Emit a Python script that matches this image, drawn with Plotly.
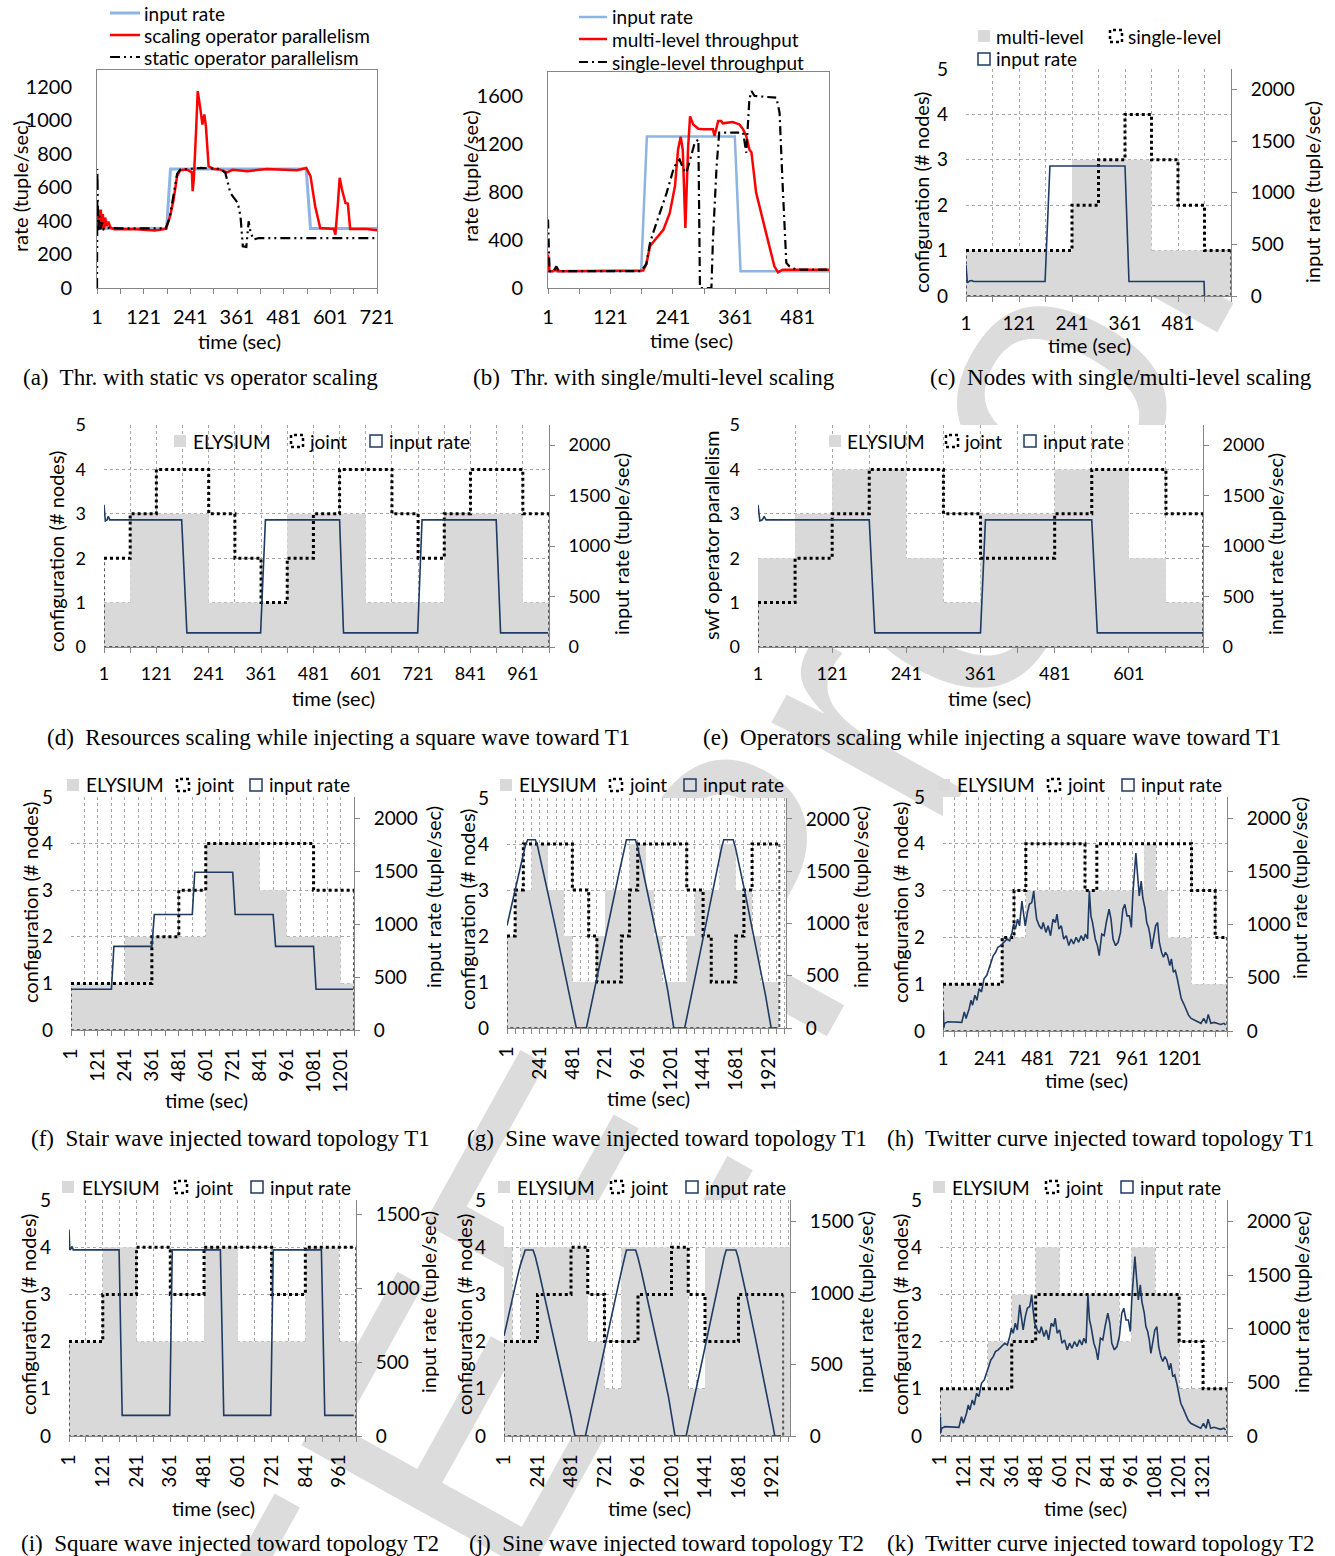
import plotly.graph_objects as go

W, H = 1335, 1556
SANS = "Lato"
SERIF = "Liberation Serif"
GRID = "#a6a6a6"
AXC = "#868686"
NAVY = "#1f3b63"
FILL = "#d9d9d9"
BLUE = "#8db4e2"
RED = "#ff0000"

# ======================= DATA =======================
# (a) throughput, static vs operator scaling  (time, tuple/sec)
a_input = [(1, 355), (180, 355), (190, 710), (539, 710), (550, 355), (721, 355)]
a_scaling = [(1, 360), (4, 450), (6, 350), (8, 460), (11, 460), (13, 360), (16, 440), (19, 350), (22, 420),
             (26, 370), (30, 395), (36, 360), (45, 350), (100, 350), (150, 343), (178, 352), (189, 428),
             (198, 527), (207, 667), (215, 702), (232, 706), (242, 697), (245, 690), (247, 577), (250, 650),
             (256, 950), (260, 1174), (267, 1065), (272, 975), (277, 1035), (281, 965), (288, 726), (301, 710),
             (318, 706), (335, 690), (350, 705), (387, 697), (438, 710), (481, 706), (515, 702), (539, 716),
             (550, 667), (562, 488), (575, 358), (610, 352), (614, 318), (620, 488), (625, 657), (631, 587),
             (640, 507), (646, 503), (652, 352), (695, 352), (721, 344)]
a_static = [(1, 0), (2, 710), (4, 340), (7, 430), (10, 350), (14, 390), (18, 350), (25, 360), (60, 355),
            (120, 355), (178, 355), (188, 420), (198, 560), (207, 680), (215, 706), (267, 716), (318, 710),
            (331, 687), (344, 567), (357, 527), (363, 507), (370, 428), (376, 249), (385, 245), (391, 398),
            (396, 330), (404, 289), (417, 298), (721, 298)]
a_xlabels = ["1", "121", "241", "361", "481", "601", "721"]
a_ylabels = [0, 200, 400, 600, 800, 1000, 1200]

# (b) throughput, single vs multi-level
b_input = [(1, 140), (180, 140), (191, 1262), (360, 1262), (371, 140), (541, 140)]
b_multi = [(1, 280), (4, 140), (10, 140), (15, 155), (20, 140), (100, 140), (184, 145), (190, 200), (197, 348),
           (203, 381), (223, 487), (235, 626), (245, 849), (251, 1155), (256, 1260), (260, 1150), (265, 500),
           (270, 1150), (274, 1430), (280, 1363), (290, 1327), (299, 1322), (318, 1322), (321, 1266),
           (328, 1391), (334, 1391), (337, 1372), (356, 1383), (369, 1363), (376, 1322), (382, 1266),
           (388, 1155), (392, 1130), (401, 793), (414, 570), (427, 348), (436, 181), (443, 131), (452, 153),
           (478, 153), (510, 150), (541, 153)]
b_single = [(1, 570), (4, 140), (12, 140), (17, 180), (22, 140), (180, 140), (190, 200), (197, 375), (203, 459),
            (216, 626), (229, 793), (242, 988), (248, 1043), (254, 1071), (261, 988), (267, 960), (274, 1071),
            (283, 1210), (290, 1238), (292, 600), (293, 0), (315, 0), (318, 403), (325, 1015), (330, 1294),
            (344, 1294), (376, 1294), (382, 1127), (388, 1572), (392, 1642), (398, 1600), (440, 1586),
            (446, 1461), (452, 849), (459, 209), (465, 181), (478, 153), (541, 153)]
b_xlabels = ["1", "121", "241", "361", "481"]
b_ylabels = [0, 400, 800, 1200, 1600]

# (c) nodes single/multi-level : step starts, levels
c_multi_start = [1, 241, 421]
c_multi_level = [1, 3, 1]
c_single_start = [1, 241, 301, 361, 421, 481, 541]
c_single_level = [1, 2, 3, 4, 3, 2, 1]
c_end = 601
c_input = [(1, 300), (4, 130), (9, 145), (14, 150), (18, 140), (180, 140), (191, 1260), (361, 1260),
           (370, 140), (540, 140), (541, 0)]
c_xlabels = ["1", "121", "241", "361", "481"]

# (d) resources, square wave
d_ely_start = [1, 61, 241, 421, 601, 781, 961]
d_ely_level = [1, 3, 1, 3, 1, 3, 1]
d_joint_start = [1, 61, 121, 241, 301, 361, 421, 481, 541, 661, 721, 781, 841, 961]
d_joint_level = [2, 3, 4, 3, 2, 1, 2, 3, 4, 3, 2, 3, 4, 3]
d_end = 1021
d_input = [(1, 1410), (4, 1250), (8, 1260), (11, 1295), (14, 1260), (179, 1260), (191, 140), (360, 140),
           (371, 1260), (541, 1260), (550, 140), (720, 140), (730, 1260), (900, 1260), (910, 140), (1019, 140)]
d_xlabels = ["1", "121", "241", "361", "481", "601", "721", "841", "961"]

# (e) operators, square wave
e_ely_start = [1, 61, 121, 241, 301, 361, 481, 601, 661]
e_ely_level = [2, 3, 4, 2, 1, 3, 4, 2, 1]
e_joint_start = [1, 61, 121, 181, 301, 361, 481, 541, 661]
e_joint_level = [1, 2, 3, 4, 3, 2, 3, 4, 3]
e_end = 721
e_input = [(1, 1410), (4, 1250), (8, 1260), (11, 1295), (14, 1260), (181, 1260), (190, 140), (361, 140),
           (369, 1260), (541, 1260), (550, 140), (721, 140)]
e_xlabels = ["1", "121", "241", "361", "481", "601"]

# (f) stair wave T1
f_ely_start = [1, 241, 601, 841, 961, 1201]
f_ely_level = [1, 2, 4, 3, 2, 1]
f_joint_start = [1, 361, 481, 601, 1081]
f_joint_level = [1, 2, 3, 4, 3]
f_end = 1261
f_input = [(1, 385), (181, 385), (192, 790), (361, 790), (372, 1090), (541, 1090), (552, 1490), (721, 1490),
           (732, 1090), (901, 1090), (912, 790), (1081, 790), (1092, 385), (1257, 385)]
f_xlabels = ["1", "121", "241", "361", "481", "601", "721", "841", "961", "1081", "1201"]

# (g) sine wave T1
g_ely_start = [1, 61, 181, 301, 421, 481, 661, 721, 901, 1021, 1081, 1141, 1321, 1381, 1561, 1681, 1801, 1861]
g_ely_level = [2, 3, 4, 3, 2, 1, 2, 3, 4, 3, 2, 1, 2, 3, 4, 3, 2, 1]
g_joint_start = [1, 61, 121, 481, 601, 661, 841, 901, 961, 1321, 1441, 1501, 1681, 1741, 1801]
g_joint_level = [2, 3, 4, 3, 2, 1, 2, 3, 4, 3, 2, 1, 2, 3, 4]
g_end = 2001
g_input = [(1, 980), (30, 1150), (60, 1330), (90, 1500), (115, 1640), (135, 1740), (153, 1800), (209, 1800),
           (225, 1740), (250, 1600), (300, 1300), (350, 1000), (400, 690), (450, 390), (480, 200), (500, 60),
           (510, 0), (584, 0), (595, 70), (620, 220), (670, 530), (720, 840), (770, 1150), (820, 1460),
           (850, 1640), (866, 1740), (878, 1800), (944, 1800), (960, 1730), (985, 1590), (1030, 1320),
           (1080, 1010), (1130, 700), (1180, 370), (1210, 130), (1226, 0), (1306, 0), (1320, 90), (1370, 400),
           (1420, 720), (1470, 1040), (1520, 1360), (1555, 1580), (1578, 1730), (1593, 1800), (1662, 1800),
           (1678, 1730), (1700, 1600), (1750, 1290), (1800, 960), (1850, 640), (1900, 310), (1925, 120),
           (1941, 0), (1985, 0)]
g_xlabels = ["1", "241", "481", "721", "961", "1201", "1441", "1681", "1921"]

# (h)/(k) twitter curve (time, tuple/sec)
twitter = [(1, 150), (3, 180), (5, 30), (9, 72), (26, 87), (59, 81), (96, 81), (109, 180), (118, 118),
           (134, 212), (143, 289), (151, 243), (163, 336), (173, 289), (184, 398), (196, 367), (209, 491),
           (223, 523), (234, 585), (246, 647), (256, 709), (268, 740), (279, 787), (293, 803), (309, 834),
           (326, 865), (339, 849), (351, 927), (359, 1005), (368, 958), (379, 1051), (389, 989), (401, 1222),
           (409, 1082), (418, 989), (429, 1113), (439, 1191), (451, 1207), (461, 1316), (468, 1176),
           (476, 1051), (489, 989), (501, 958), (509, 1020), (523, 927), (534, 989), (546, 896), (559, 1051),
           (571, 1020), (579, 1098), (589, 958), (601, 989), (613, 865), (626, 896), (639, 803), (651, 865),
           (663, 818), (676, 880), (689, 834), (701, 896), (713, 849), (723, 911), (734, 865), (743, 1316),
           (751, 1082), (759, 1020), (773, 865), (784, 803), (793, 709), (806, 911), (818, 896), (829, 1020),
           (843, 1145), (853, 1051), (863, 865), (876, 803), (889, 834), (901, 927), (913, 1145), (923, 1191),
           (934, 1082), (946, 1082), (956, 974), (963, 1269), (971, 1518), (979, 1673), (988, 1456),
           (996, 1269), (1006, 1409), (1014, 1253), (1026, 1145), (1034, 1020), (1043, 974), (1051, 896),
           (1059, 771), (1069, 865), (1079, 989), (1089, 1020), (1098, 834), (1109, 740), (1119, 694),
           (1129, 740), (1139, 709), (1151, 616), (1159, 678), (1169, 554), (1179, 569), (1189, 491),
           (1199, 398), (1209, 305), (1221, 258), (1233, 196), (1246, 149), (1259, 118), (1276, 103),
           (1293, 81), (1309, 72), (1323, 118), (1336, 72), (1346, 156), (1359, 72), (1376, 81), (1393, 72),
           (1409, 62), (1426, 72), (1434, 56)]

# (h) twitter T1
h_ely_start = [1, 301, 421, 1021, 1081, 1141, 1261]
h_ely_level = [1, 2, 3, 4, 3, 2, 1]
h_joint_start = [1, 301, 361, 421, 721, 781, 1261, 1381]
h_joint_level = [1, 2, 3, 4, 3, 4, 3, 2]
h_end = 1441
h_xlabels = ["1", "241", "481", "721", "961", "1201"]

# (i) square wave T2
i_ely_start = [1, 121, 241, 481, 601, 841, 961]
i_ely_level = [2, 4, 2, 4, 2, 4, 2]
i_joint_start = [1, 121, 241, 361, 481, 721, 841]
i_joint_level = [2, 3, 4, 3, 4, 3, 4]
i_end = 1021
i_input = [(1, 1400), (4, 1262), (8, 1270), (12, 1285), (16, 1262), (179, 1262), (190, 140), (359, 140),
           (368, 1262), (539, 1262), (551, 140), (718, 140), (727, 1262), (898, 1262), (910, 140), (1013, 140)]
i_xlabels = ["1", "121", "241", "361", "481", "601", "721", "841", "961"]

# (j) sine wave T2
j_ely_start = [1, 61, 121, 601, 721, 841, 1321, 1441]
j_ely_level = [4, 2, 4, 2, 1, 4, 1, 4]
j_ely_end = 2050
j_joint_start = [1, 241, 481, 601, 721, 961, 1201, 1321, 1441, 1681]
j_joint_level = [2, 3, 4, 3, 2, 3, 4, 3, 2, 3]
j_end = 2001
j_input = [(1, 700), (30, 830), (60, 960), (90, 1085), (115, 1185), (135, 1255), (153, 1300), (209, 1300),
           (225, 1255), (250, 1155), (300, 940), (350, 720), (400, 500), (450, 280), (480, 145), (500, 45),
           (510, 0), (584, 0), (595, 50), (620, 160), (670, 385), (720, 605), (770, 830), (820, 1055),
           (850, 1185), (866, 1255), (878, 1300), (944, 1300), (960, 1250), (985, 1150), (1030, 955),
           (1080, 730), (1130, 505), (1180, 270), (1210, 95), (1226, 0), (1306, 0), (1320, 65), (1370, 290),
           (1420, 520), (1470, 750), (1520, 980), (1555, 1140), (1578, 1250), (1593, 1300), (1662, 1300),
           (1678, 1250), (1700, 1155), (1750, 930), (1800, 695), (1850, 460), (1900, 225), (1925, 85),
           (1941, 0), (1985, 0)]
j_xlabels = ["1", "241", "481", "721", "961", "1201", "1441", "1681", "1921"]

# (k) twitter T2
k_ely_start = [1, 241, 361, 481, 601, 901, 961, 1081, 1201]
k_ely_level = [1, 2, 3, 4, 3, 2, 4, 3, 1]
k_joint_start = [1, 361, 481, 1201, 1321]
k_joint_level = [1, 2, 3, 2, 1]
k_end = 1441
k_xlabels = ["1", "121", "241", "361", "481", "601", "721", "841", "961", "1081", "1201", "1321"]

config_labels = [0, 1, 2, 3, 4, 5]
rate_labels_2000 = [0, 500, 1000, 1500, 2000]
rate_labels_1500 = [0, 500, 1000, 1500]

# ======================= LAYOUT BOXES (px: left, top, right, bottom) =======================
BOX = {
    "a": (97, 70, 377, 288), "b": (548, 72, 829, 288), "c": (966, 69, 1231, 296),
    "d": (104, 425, 549, 647), "e": (758, 425, 1203, 647),
    "f": (71, 797, 354, 1030), "g": (507, 798, 786, 1028), "h": (943, 797, 1227, 1031),
    "i": (69, 1200, 356, 1436), "j": (504, 1200, 790, 1436), "k": (940, 1200, 1227, 1436),
}

# ======================= HELPERS =======================
fig = go.Figure()
LAY = dict(width=W, height=H, autosize=False,
           margin=dict(l=0, r=0, t=0, b=0, pad=0, autoexpand=False), paper_bgcolor="white",
           plot_bgcolor="rgba(0,0,0,0)", showlegend=False,
           font=dict(family=SANS, size=19, color="black"))
ANN, SHP = [], []


def PX(x):
    return x / W


def PY(y):
    return 1 - y / H


def xk(n):
    return "xaxis" if n == 1 else f"xaxis{n}"


def yk(n):
    return "yaxis" if n == 1 else f"yaxis{n}"


def xr(n):
    return "x" if n == 1 else f"x{n}"


def yr(n):
    return "y" if n == 1 else f"y{n}"


def ticktext(vals, labels):
    s = set(str(v) for v in labels)
    return [str(v) if str(v) in s else "" for v in vals]


def setup_simple(n, box, xrng, xstep, xlabels, yrng, yvals):
    l, t, r, b = box
    xv = list(range(xrng[0], xrng[1] + 1, xstep))
    LAY[xk(n)] = dict(domain=[PX(l), PX(r)], range=xrng, anchor=yr(n), tickmode="array", tickvals=xv,
                      ticktext=ticktext(xv, xlabels), showgrid=False, showline=True, mirror=True,
                      linecolor=AXC, linewidth=1, ticks="outside", ticklen=5, tickcolor=AXC,
                      zeroline=False, ticklabelstandoff=6, tickangle=0, tickfont=dict(size=20))
    LAY[yk(n)] = dict(domain=[PY(b), PY(t)], range=yrng, anchor=xr(n), tickmode="array", tickvals=yvals,
                      showgrid=False, showline=True, mirror=True, linecolor=AXC, linewidth=1, ticks="",
                      zeroline=False, ticklabelstandoff=20, tickfont=dict(size=20))


def setup_excel(n, box, xmax, xlabels, xang, y2max, y2vals, fs=19, tickmax=None):
    l, t, r, b = box
    xv = list(range(1, (tickmax or xmax) + 1, 60))
    LAY[xk(n)] = dict(domain=[PX(l), PX(r)], range=[1, xmax], anchor=yr(n), tickmode="array", tickvals=xv,
                      ticktext=ticktext(xv, xlabels), tickangle=xang, showgrid=True, gridcolor=GRID,
                      gridwidth=1, griddash="dot", showline=True, linecolor=AXC, linewidth=1,
                      ticks="outside", ticklen=5, tickcolor=AXC, zeroline=False, ticklabelstandoff=5,
                      tickfont=dict(size=fs))
    LAY[yk(n)] = dict(domain=[PY(b), PY(t)], range=[0, 5], anchor=xr(n), tickmode="array",
                      tickvals=config_labels, showgrid=True, gridcolor=GRID, gridwidth=1, griddash="dot",
                      showline=False, ticks="", zeroline=False, ticklabelstandoff=17, tickfont=dict(size=fs))
    LAY[yk(n + 11)] = dict(overlaying=yr(n), side="right", anchor=xr(n), range=[0, y2max], tickmode="array",
                           tickvals=y2vals, showgrid=False, showline=True, linecolor=AXC, linewidth=1,
                           ticks="outside", ticklen=5, tickcolor=AXC, zeroline=False, ticklabelstandoff=10,
                           tickfont=dict(size=fs))


def curve(n, pts, color, width, dash=None, secondary=False):
    t = [p[0] for p in pts]
    v = [p[1] for p in pts]
    fig.add_trace(go.Scatter(x=t, y=v, mode="lines", line=dict(color=color, width=width, dash=dash),
                             xaxis=xr(n), yaxis=yr(n + 11) if secondary else yr(n), hoverinfo="skip"))


def step_fill(n, starts, levels, end):
    xs = list(starts) + [end]
    ys = list(levels) + [levels[-1]]
    fig.add_trace(go.Scatter(x=xs, y=ys, mode="lines", line=dict(width=0, shape="hv", color=FILL),
                             fill="tozeroy", fillcolor=FILL, xaxis=xr(n), yaxis=yr(n), hoverinfo="skip"))


def step_outline(n, starts, levels, end):
    fig.add_trace(go.Scatter(x=[end, end, starts[0], starts[0]], y=[levels[-1], 0, 0, levels[0]],
                             mode="lines", line=dict(color="#555555", width=2, dash="dot"),
                             xaxis=xr(n), yaxis=yr(n), hoverinfo="skip"))
    xs = list(starts) + [end]
    ys = list(levels) + [levels[-1]]
    fig.add_trace(go.Scatter(x=xs, y=ys, mode="lines", line=dict(color="black", width=3, dash="dot", shape="hv"),
                             xaxis=xr(n), yaxis=yr(n), hoverinfo="skip"))


def text(x, y, s, size=19, anchor="left", angle=0, family=SANS):
    ANN.append(dict(text=s, x=PX(x), y=PY(y), xref="paper", yref="paper", xanchor=anchor, yanchor="middle",
                    showarrow=False, textangle=angle, font=dict(size=size, family=family, color="black")))


def sym(kind, x, y, s=12):
    d = dict(type="rect", xref="paper", yref="paper", x0=PX(x), x1=PX(x + s), y0=PY(y + s / 2), y1=PY(y - s / 2))
    if kind == "fill":
        d.update(fillcolor=FILL, line=dict(width=0))
    elif kind == "dot":
        d.update(fillcolor="rgba(0,0,0,0)", line=dict(color="black", width=2.5, dash="dot"))
    else:
        d.update(fillcolor="rgba(0,0,0,0)", line=dict(color=NAVY, width=1.5))
    SHP.append(d)


def legline(x0, x1, y, color, width, dash=None):
    SHP.append(dict(type="line", xref="paper", yref="paper", x0=PX(x0), x1=PX(x1), y0=PY(y), y1=PY(y),
                    line=dict(color=color, width=width, dash=dash)))


def legend3(y, xs):
    (s1, t1, s2, t2, s3, t3) = xs
    sym("fill", s1, y)
    text(t1, y, "ELYSIUM")
    sym("dot", s2, y)
    text(t2, y, "joint")
    sym("box", s3, y)
    text(t3, y, "input rate")


# watermark (page-level, behind the charts; hidden by the opaque plot areas)
SHP.append(dict(type="rect", xref="paper", yref="paper", x0=PX(550), x1=PX(750), y0=PY(1110), y1=PY(910),
                line=dict(width=0), fillcolor="rgba(0,0,0,0)", layer="below",
                label=dict(text="IEEE Proof", font=dict(size=380, color="#dcdcdc", family="Liberation Sans"),
                           textangle=-61, textposition="middle center")))
for (l, t, r, b) in BOX.values():
    SHP.append(dict(type="rect", xref="paper", yref="paper", x0=PX(l), x1=PX(r), y0=PY(b), y1=PY(t),
                    line=dict(width=0), fillcolor="white", layer="below"))

# ======================= PANEL (a) =======================
setup_simple(1, BOX["a"], [1, 721], 60, a_xlabels, [0, 1300], a_ylabels)
curve(1, a_input, BLUE, 3)
curve(1, a_scaling, RED, 2.5)
curve(1, a_static, "black", 2.2, dash="10px,4px,2px,4px,2px,4px")
legline(110, 140, 13, BLUE, 3)
legline(110, 140, 35, RED, 2.5)
legline(110, 140, 57, "black", 2.2, "10px,4px,2px,4px,2px,4px")
text(142, 13, "input rate")
text(142, 35, "scaling operator parallelism")
text(142, 57, "static operator parallelism")
text(20, 186, "rate (tuple/sec)", size=20, anchor="center", angle=-90)
text(239, 341, "time (sec)", size=20, anchor="center")

# ======================= PANEL (b) =======================
setup_simple(2, BOX["b"], [1, 541], 60, b_xlabels, [0, 1800], b_ylabels)
curve(2, b_input, BLUE, 2.5)
curve(2, b_multi, RED, 2.5)
curve(2, b_single, "black", 2.2, dash="9px,4px,2px,4px")
legline(579, 607, 17, BLUE, 2.5)
legline(579, 607, 39, RED, 2.5)
legline(579, 607, 62, "black", 2.2, "9px,4px,2px,4px")
text(610, 17, "input rate")
text(610, 39, "multi-level throughput")
text(610, 62, "single-level throughput")
text(470, 176, "rate (tuple/sec)", size=20, anchor="center", angle=-90)
text(692, 340, "time (sec)", size=20, anchor="center")

# ======================= PANEL (c) =======================
setup_excel(3, BOX["c"], c_end, c_xlabels, 0, 2200, rate_labels_2000)
step_fill(3, c_multi_start, c_multi_level, c_end)
step_outline(3, c_single_start, c_single_level, c_end)
curve(3, c_input, NAVY, 1.6, secondary=True)
sym("fill", 978, 36)
text(994, 36, "multi-level")
sym("dot", 1110, 36)
text(1126, 36, "single-level")
sym("box", 978, 59)
text(994, 59, "input rate")
text(921, 193, "configuration (# nodes)", size=20, anchor="center", angle=-90)
text(1312, 192, "input rate (tuple/sec)", size=20, anchor="center", angle=-90)
text(1089, 345, "time (sec)", size=20, anchor="center")

# ======================= PANEL (d) =======================
setup_excel(4, BOX["d"], d_end, d_xlabels, 0, 2200, rate_labels_2000, fs=18)
step_fill(4, d_ely_start, d_ely_level, d_end)
step_outline(4, d_joint_start, d_joint_level, d_end)
curve(4, d_input, NAVY, 1.6, secondary=True)
legend3(441, (174, 191, 291, 307, 370, 387))
text(56, 552, "configuration (# nodes)", size=20, anchor="center", angle=-90)
text(621, 544, "input rate (tuple/sec)", size=20, anchor="center", angle=-90)
text(333, 698, "time (sec)", size=20, anchor="center")

# ======================= PANEL (e) =======================
setup_excel(5, BOX["e"], e_end, e_xlabels, 0, 2200, rate_labels_2000, fs=18)
step_fill(5, e_ely_start, e_ely_level, e_end)
step_outline(5, e_joint_start, e_joint_level, e_end)
curve(5, e_input, NAVY, 1.6, secondary=True)
legend3(441, (829, 845, 946, 962, 1024, 1041))
text(711, 536, "swf operator parallelism", size=20, anchor="center", angle=-90)
text(1275, 544, "input rate (tuple/sec)", size=20, anchor="center", angle=-90)
text(989, 698, "time (sec)", size=20, anchor="center")

# ======================= PANEL (f) =======================
setup_excel(6, BOX["f"], f_end, f_xlabels, -90, 2200, rate_labels_2000)
step_fill(6, f_ely_start, f_ely_level, f_end)
step_outline(6, f_joint_start, f_joint_level, f_end)
curve(6, f_input, NAVY, 1.6, secondary=True)
legend3(785, (67, 84, 177, 194, 250, 267))
text(30, 903, "configuration (# nodes)", size=20, anchor="center", angle=-90)
text(433, 897, "input rate (tuple/sec)", size=20, anchor="center", angle=-90)
text(206, 1100, "time (sec)", size=20, anchor="center")

# ======================= PANEL (g) =======================
setup_excel(7, BOX["g"], 2050, g_xlabels, -90, 2200, rate_labels_2000, tickmax=2041)
step_fill(7, g_ely_start, g_ely_level, g_end)
step_outline(7, g_joint_start, g_joint_level, g_end)
curve(7, g_input, NAVY, 1.6, secondary=True)
legend3(785, (500, 517, 610, 627, 684, 701))
text(467, 910, "configuration (# nodes)", size=20, anchor="center", angle=-90)
text(860, 897, "input rate (tuple/sec)", size=20, anchor="center", angle=-90)
text(648, 1098, "time (sec)", size=20, anchor="center")

# ======================= PANEL (h) =======================
setup_excel(8, BOX["h"], h_end, h_xlabels, 0, 2200, rate_labels_2000)
step_fill(8, h_ely_start, h_ely_level, h_end)
step_outline(8, h_joint_start, h_joint_level, h_end)
curve(8, twitter, NAVY, 1.6, secondary=True)
legend3(785, (938, 955, 1048, 1065, 1122, 1139))
text(900, 903, "configuration (# nodes)", size=20, anchor="center", angle=-90)
text(1299, 888, "input rate (tuple/sec)", size=20, anchor="center", angle=-90)
text(1086, 1080, "time (sec)", size=20, anchor="center")

# ======================= PANEL (i) =======================
setup_excel(9, BOX["i"], i_end, i_xlabels, -90, 1600, rate_labels_1500)
step_fill(9, i_ely_start, i_ely_level, i_end)
step_outline(9, i_joint_start, i_joint_level, i_end)
curve(9, i_input, NAVY, 1.6, secondary=True)
legend3(1187, (62, 80, 175, 193, 251, 268))
text(28, 1315, "configuration (# nodes)", size=20, anchor="center", angle=-90)
text(428, 1302, "input rate (tuple/sec)", size=20, anchor="center", angle=-90)
text(213, 1508, "time (sec)", size=20, anchor="center")

# ======================= PANEL (j) =======================
setup_excel(10, BOX["j"], 2050, j_xlabels, -90, 1650, rate_labels_1500, tickmax=2041)
step_fill(10, j_ely_start, j_ely_level, j_ely_end)
step_outline(10, j_joint_start, j_joint_level, j_end)
curve(10, j_input, NAVY, 1.6, secondary=True)
legend3(1187, (498, 515, 611, 628, 686, 703))
text(464, 1315, "configuration (# nodes)", size=20, anchor="center", angle=-90)
text(865, 1302, "input rate (tuple/sec)", size=20, anchor="center", angle=-90)
text(649, 1508, "time (sec)", size=20, anchor="center")

# ======================= PANEL (k) =======================
setup_excel(11, BOX["k"], k_end, k_xlabels, -90, 2200, rate_labels_2000)
step_fill(11, k_ely_start, k_ely_level, k_end)
step_outline(11, k_joint_start, k_joint_level, k_end)
curve(11, twitter, NAVY, 1.6, secondary=True)
legend3(1187, (933, 950, 1046, 1063, 1121, 1138))
text(900, 1315, "configuration (# nodes)", size=20, anchor="center", angle=-90)
text(1301, 1302, "input rate (tuple/sec)", size=20, anchor="center", angle=-90)
text(1085, 1508, "time (sec)", size=20, anchor="center")

# ======================= CAPTIONS =======================
captions = [
    (200, 377, "(a)\u00a0 Thr. with static vs operator scaling"),
    (654, 377, "(b)\u00a0 Thr. with single/multi-level scaling"),
    (1121, 377, "(c)\u00a0 Nodes with single/multi-level scaling"),
    (338, 737, "(d)\u00a0 Resources scaling while injecting a square wave toward T1"),
    (992, 737, "(e)\u00a0 Operators scaling while injecting a square wave toward T1"),
    (230, 1138, "(f)\u00a0 Stair wave injected toward topology T1"),
    (667, 1138, "(g)\u00a0 Sine wave injected toward topology T1"),
    (1100, 1138, "(h)\u00a0 Twitter curve injected toward topology T1"),
    (230, 1543, "(i)\u00a0 Square wave injected toward topology T2"),
    (666, 1543, "(j)\u00a0 Sine wave injected toward topology T2"),
    (1100, 1543, "(k)\u00a0 Twitter curve injected toward topology T2"),
]
for cx, cy, s in captions:
    text(cx, cy, s, size=23, anchor="center", family=SERIF)

LAY["annotations"] = ANN
LAY["shapes"] = SHP
fig.update_layout(**LAY)
fig.write_html("out.html", config={"displayModeBar": False, "staticPlot": True},
               post_script="document.documentElement.style.margin='0';document.body.style.margin='0';"
                           "document.body.style.padding='0';document.body.style.overflow='hidden';")
